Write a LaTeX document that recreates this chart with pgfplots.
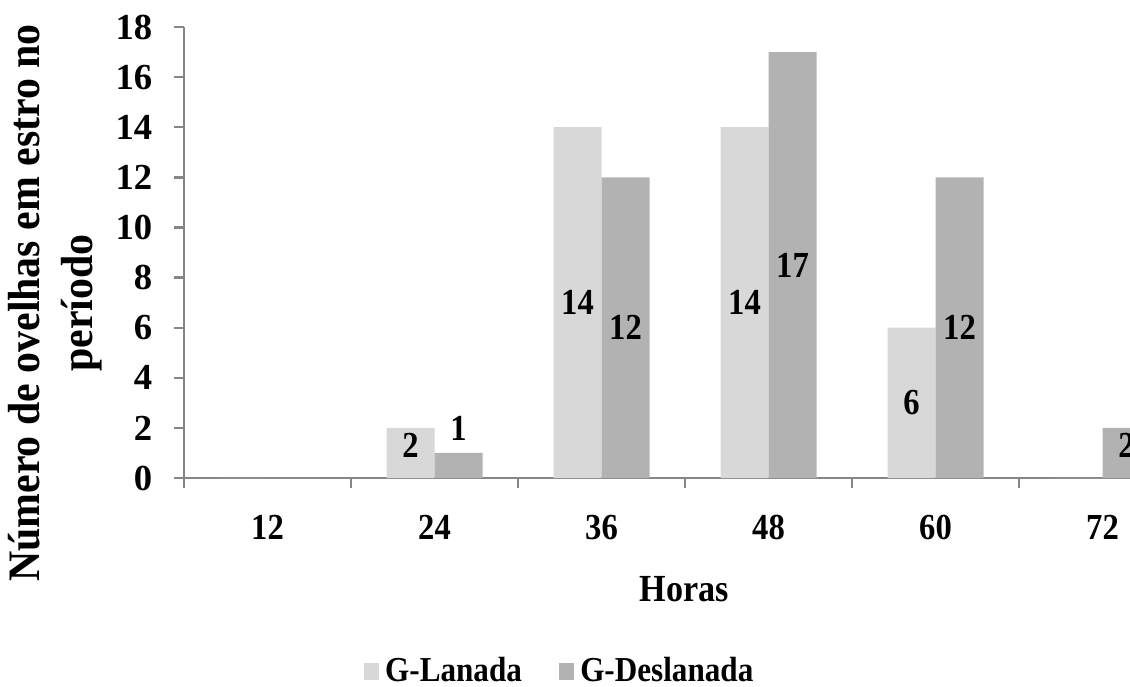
\documentclass[border=0pt]{standalone}
\usepackage{fontspec}
\setmainfont{Liberation Serif}
\newfontfamily\estreita{Liberation Serif}[FakeStretch=0.89]
\newfontfamily\rotulo{Liberation Serif}[FakeStretch=0.93]
\usepackage{pgfplots}
\usepackage{pgfplotstable}
\pgfplotsset{compat=1.18}
\definecolor{lanada}{RGB}{216,216,216}
\definecolor{deslanada}{RGB}{178,178,178}
\definecolor{eixo}{RGB}{134,134,134}

% horas: 0=12, 1=24, ... 5=72
\pgfplotstableread{
x  lan des
0  0   0
1  2   1
2  14  12
3  14  17
4  6   12
5  0   2
}\dados

\begin{document}
\begin{tikzpicture}
\begin{axis}[
    name=ax, at={(0,0)}, anchor=south west,
    scale only axis, width=300.6pt, height=135.3pt,
    ybar=0pt, bar width=14.4pt,
    enlargelimits=false,
    xmin=-0.5, xmax=5.5, ymin=0, ymax=18,
    xtick={0,...,5}, xticklabels={12,24,36,48,60,72},
    minor xtick={-0.5,0.5,...,5.5},
    ytick={0,2,...,18},
    axis x line*=bottom, axis y line*=left,
    axis line style={draw=eixo, line width=0.7pt},
    tick style={draw=eixo, line width=0.7pt},
    major x tick style={draw=none},
    tick align=outside, major tick length=3pt, minor tick length=3pt,
    /pgf/number format/assume math mode=true,
    yticklabel style={font=\fontsize{11}{13}\selectfont\bfseries, xshift=-3pt},
    xticklabel style={font=\estreita\fontsize{11}{13}\selectfont\bfseries, yshift=-4.5pt},
    legend style={at={(0.377,-0.430)}, anchor=center, draw=none,
        font=\estreita\fontsize{10.5}{12}\selectfont\bfseries,
        /tikz/every even column/.append style={column sep=9pt}},
    legend columns=2,
    legend image code/.code={\fill[#1] (0pt,-2.4pt) rectangle (4.5pt,2.6pt);},
    visualization depends on={y \as \rawy},
    nodes near coords={\pgfmathfloatifflags{\pgfplotspointmeta}{0}{}{\pgfmathprintnumber{\pgfplotspointmeta}}},
    every node near coord/.append style={anchor=center,
        font=\estreita\fontsize{11}{13}\selectfont\bfseries,
        yshift={ifthenelse(\rawy<1.5, 7.5, ifthenelse(\rawy<2.5, -5.2, -3.76*\rawy))*1pt}},
]
\addplot[fill=lanada, draw=none] table[x=x, y=lan] {\dados};
\addplot[fill=deslanada, draw=none] table[x=x, y=des] {\dados};
\legend{G-Lanada, G-Deslanada}
\end{axis}
\node[rotate=90, align=center, font=\rotulo\fontsize{13.5}{16}\selectfont\bfseries]
    at (-38.6pt,52.5pt) {Número de ovelhas em estro no\\período};
\node[font=\estreita\fontsize{11.5}{13}\selectfont\bfseries] at (150pt,-33.3pt) {Horas};
\pgfresetboundingbox
\path[use as bounding box] (-55.2pt,-62.4pt) rectangle (283.8pt,143.4pt);
\end{tikzpicture}
\end{document}
